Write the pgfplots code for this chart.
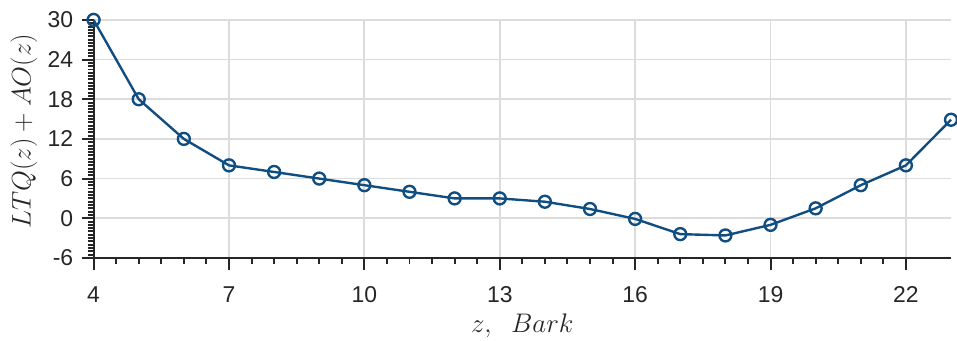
\documentclass[border=0pt]{standalone}
\usepackage{graphicx}
\usepackage{pgfplots}
\pgfplotsset{compat=1.18}
\usepackage{fontspec}
\setmainfont{Liberation Sans}
\definecolor{lineblue}{RGB}{16,78,130}
\definecolor{axgray}{RGB}{38,38,38}
\definecolor{gridgray}{RGB}{220,220,220}
\begin{document}
\begin{tikzpicture}[x=1pt,y=1pt]
\begin{axis}[
  name=ax,
  scale only axis,
  width=861pt, height=239pt,
  xmin=4, xmax=23, ymin=-6, ymax=30,
  axis lines*=left,
  axis line style={axgray, line width=2pt},
  xtick={4,7,10,13,16,19,22},
  ytick={-6,0,6,12,18,24,30},
  minor x tick num=5,
  minor y tick num=11,
  tick align=outside,
  major tick length=12pt,
  minor tick length=6pt,
  every tick/.style={axgray, line width=2pt},
  grid=major,
  major grid style={gridgray, line width=1.8pt},
  tick label style={font=\fontsize{23}{27}\selectfont, text=axgray},
  xticklabel style={yshift=-13pt},
  yticklabel style={xshift=-5pt},
  /pgf/number format/assume math mode=true,
  xlabel={\scalebox{1.085}{$z,\ \ Bark$}},
  ylabel={\scalebox{1.085}{$LTQ(z)+AO(z)$}},
  label style={font=\fontsize{24.88}{30}\selectfont, text=axgray},
  xlabel style={at={(axis description cs:0.5,-0.2845)}, anchor=center},
  ylabel style={at={(axis description cs:-0.0813,0.533)}, anchor=center},
  clip=false,
]
\addplot[lineblue, line width=2.4pt, mark=o, mark size=6pt, mark options={line width=2.4pt}]
coordinates {
(4,30) (5,18) (6,12) (7,8) (8,7) (9,6) (10,5) (11,4) (12,3) (13,3)
(14,2.5) (15,1.4) (16,-0.1) (17,-2.4) (18,-2.6) (19,-1.0) (20,1.5)
(21,5) (22,8) (23,14.9)
};
\end{axis}
\useasboundingbox ([xshift=-94pt,yshift=-79pt]ax.south west) rectangle ([xshift=2pt,yshift=20pt]ax.north east);
\end{tikzpicture}
\end{document}
